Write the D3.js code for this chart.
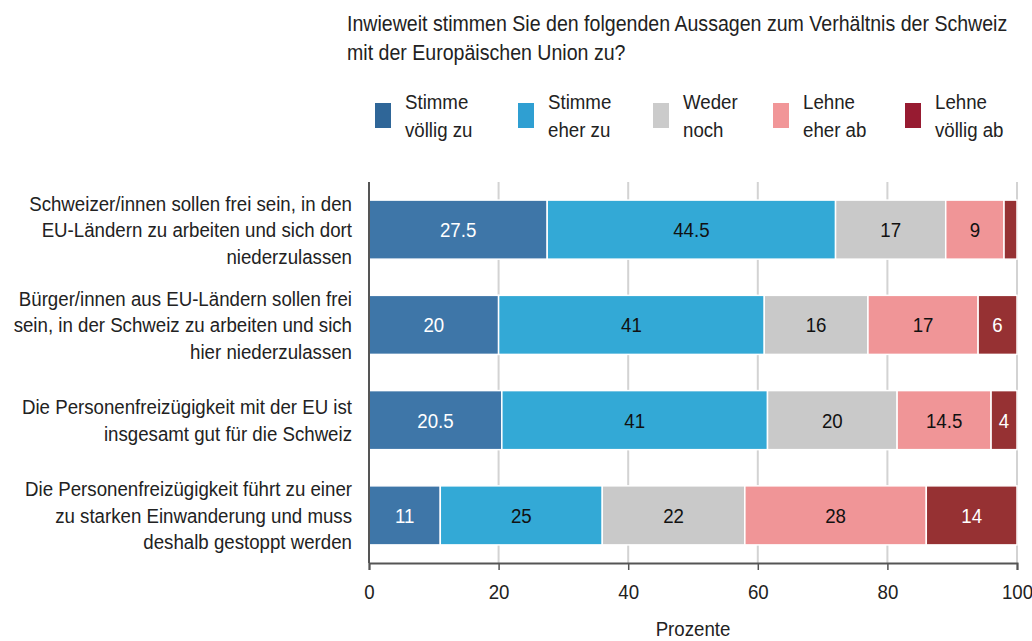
<!DOCTYPE html>
<html><head><meta charset="utf-8">
<script src="https://cdn.jsdelivr.net/npm/d3@7"></script>
<style>body{margin:0;background:#fff}svg{display:block}text{font-family:"Liberation Sans",Arial,sans-serif;fill:#222}</style>
</head><body><svg id="c" width="1032" height="641"></svg>
<script>
const titleLines = ["Inwieweit stimmen Sie den folgenden Aussagen zum Verhältnis der Schweiz", "mit der Europäischen Union zu?"];
const statements = [
  ["Schweizer/innen sollen frei sein, in den", "EU-Ländern zu arbeiten und sich dort", "niederzulassen"],
  ["Bürger/innen aus EU-Ländern sollen frei", "sein, in der Schweiz zu arbeiten und sich", "hier niederzulassen"],
  ["Die Personenfreizügigkeit mit der EU ist", "insgesamt gut für die Schweiz"],
  ["Die Personenfreizügigkeit führt zu einer", "zu starken Einwanderung und muss", "deshalb gestoppt werden"]
];
const seriesNames = [["Stimme","völlig zu"],["Stimme","eher zu"],["Weder","noch"],["Lehne","eher ab"],["Lehne","völlig ab"]];
const colors = ["#3e76a8","#33a9d6","#c9c9c9","#f09597","#963133"];
const legendColors = ["#2f6698","#2f9fd2","#cbcbcb","#f19698","#971b31"];
const labelColors = ["#fff","#111","#111","#111","#fff"];
const stimmeVoellig = [27.5, 20, 20.5, 11];
const stimmeEher = [44.5, 41, 41, 25];
const wederNoch = [17, 16, 20, 22];
const lehneEher = [9, 17, 14.5, 28];
const lehneVoellig = [2, 6, 4, 14];
const xTicks = [0, 20, 40, 60, 80, 100];
const xTitle = "Prozente";

const SX = 0.89, FS = 21;
const series = [stimmeVoellig, stimmeEher, wederNoch, lehneEher, lehneVoellig];
const rows = statements.map((s,i)=>{const o={id:i}; series.forEach((v,k)=>o["s"+k]=v[i]); return o;});
const keys = series.map((_,k)=>"s"+k);
const stacked = d3.stack().keys(keys)(rows);

const svg = d3.select("#c");
const x = d3.scaleLinear().domain([0,100]).range([369,1017]);
const y = d3.scaleBand().domain(d3.range(statements.length)).range([182,563]).paddingInner(0.38).paddingOuter(0.19);

function txt(g, X, Y, s, fs, anchor){
  return g.append("text").attr("transform",`translate(${X},${Y}) scale(${SX},1)`)
    .attr("font-size",fs||FS).attr("text-anchor",anchor||"start").text(s);
}

// title
const tg = svg.append("g");
titleLines.forEach((t,i)=>txt(tg, 347, 31+i*29, t, 22));

// legend
const legX = [375, 518, 653, 773, 905];
const lg = svg.append("g");
seriesNames.forEach((d,i)=>{
  lg.append("rect").attr("x",legX[i]).attr("y",103).attr("width",16).attr("height",25).attr("fill",legendColors[i]);
  d.forEach((t,j)=>txt(lg, legX[i]+30, 109+j*28, t));
});

// grid
svg.append("g").selectAll("line").data(xTicks.slice(1)).join("line")
  .attr("x1",d=>x(d)).attr("x2",d=>x(d)).attr("y1",182).attr("y2",563)
  .attr("stroke","#d3d3d3").attr("stroke-width",2);

// bars
const gs = svg.append("g").selectAll("g").data(stacked).join("g").attr("fill",(d,i)=>colors[i]);
gs.selectAll("rect").data(d=>d).join("rect")
  .attr("x",d=>x(d[0])).attr("width",d=>x(d[1])-x(d[0]))
  .attr("y",(d,i)=>y(i)).attr("height",y.bandwidth())
  .attr("stroke","#fff").attr("stroke-width",1.5);
const lbl = svg.append("g");
stacked.forEach((s,k)=>{
  s.filter(d=>d[1]-d[0]>=3).forEach(d=>{
    txt(lbl, (x(d[0])+x(d[1]))/2, y(d.data.id)+y.bandwidth()/2+7.5, series[k][d.data.id], FS, "middle")
      .style("fill",labelColors[k]);
  });
});

// axes
const xa = svg.append("g").attr("transform","translate(0,563)")
  .call(d3.axisBottom(x).tickValues(xTicks).tickSize(7).tickPadding(14).tickFormat(d3.format("d")));
xa.select(".domain").attr("stroke","#555").attr("stroke-width",2);
xa.selectAll(".tick line").attr("stroke","#555").attr("stroke-width",1.5);
xa.selectAll("text").attr("font-size",FS).attr("font-family","Liberation Sans, Arial, sans-serif")
  .style("fill","#222").attr("transform",`scale(${SX},1)`);
svg.append("line").attr("x1",369).attr("x2",369).attr("y1",182).attr("y2",563).attr("stroke","#555").attr("stroke-width",2);

txt(svg, x(50), 636, xTitle, FS, "middle");

// row labels
const rg = svg.append("g");
statements.forEach((lines,i)=>{
  const t = rg.append("text").attr("transform",`translate(352,0) scale(${SX},1)`)
    .attr("font-size",FS).attr("text-anchor","end");
  lines.forEach((s,j)=>t.append("tspan").attr("x",0)
    .attr("y", y(i)+y.bandwidth()/2 + (j-(lines.length-1)/2)*26.5 + 7.5).text(s));
});
</script></body></html>
